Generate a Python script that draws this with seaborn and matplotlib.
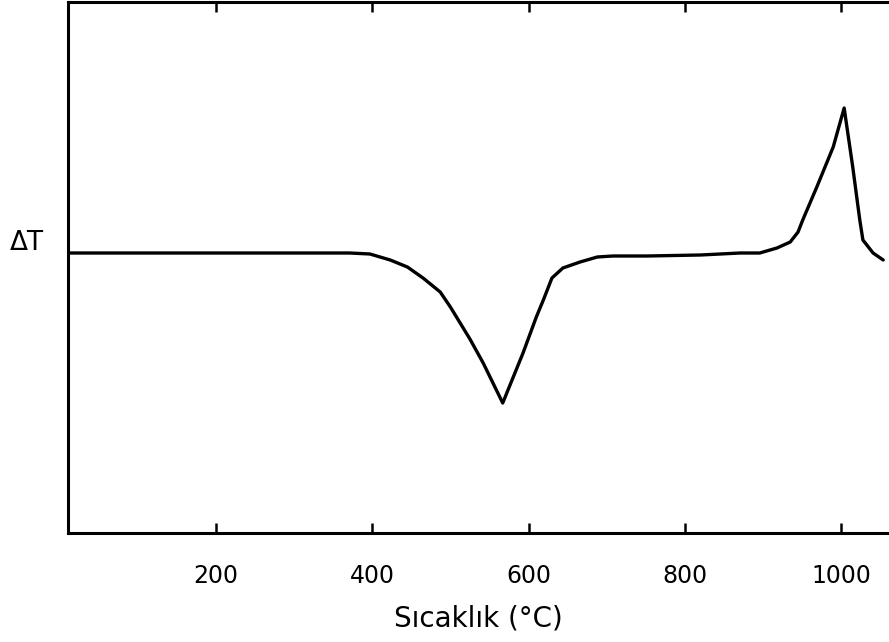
import matplotlib
matplotlib.use("Agg")
import matplotlib.pyplot as plt
import seaborn as sns
import pandas as pd

# Data (temperature in °C, ΔT in arbitrary units)
temperature = [11, 100, 200, 300, 371, 397, 423, 445, 465, 487, 500, 525,
               542, 567, 593, 610, 619, 630, 644, 666, 688, 708, 752, 820,
               871, 896, 918, 935, 945, 951, 969, 990, 1004, 1015, 1024,
               1028, 1041, 1054]
delta_t = [0.0, 0.0, 0.0, 0.0, 0.0, -0.1, -0.7, -1.4, -2.5, -3.9, -5.4, -8.6,
           -11.0, -15.0, -10.0, -6.4, -4.7, -2.5, -1.5, -0.9, -0.4, -0.3, -0.3,
           -0.2, 0.0, 0.0, 0.5, 1.1, 2.1, 3.3, 6.6, 10.6, 14.5, 8.6, 3.3,
           1.3, 0.0, -0.7]
x_ticks = [200, 400, 600, 800, 1000]
x_tick_labels = ["200", "400", "600", "800", "1000"]
x_label = "Sıcaklık (°C)"
y_label = "ΔT"

df = pd.DataFrame({"T": temperature, "dT": delta_t})

sns.set_style("white")
plt.rcParams["font.family"] = ["DejaVu Sans"]

fig = plt.figure(figsize=(8.89, 6.42), dpi=100)
ax = fig.add_axes([68 / 889, 1 - 533 / 642, (889 - 68) / 889, 531 / 642])

sns.lineplot(data=df, x="T", y="dT", sort=False, estimator=None,
             color="black", linewidth=2.4, ax=ax)
ax.lines[0].set_solid_joinstyle("round")

ax.set_xlim(10.6, 1061.4)
ax.set_ylim(-28.0, 25.1)

ax.set_xticks(x_ticks)
ax.set_xticklabels(x_tick_labels, fontsize=17, color="black")
ax.set_yticks([])
ax.tick_params(axis="x", direction="in", top=True, bottom=True,
               length=7, width=1.8, color="black", pad=22)

for side in ["left", "top", "bottom"]:
    ax.spines[side].set_visible(True)
    ax.spines[side].set_linewidth(2.2)
    ax.spines[side].set_color("black")
ax.spines["right"].set_visible(False)

ax.set_xlabel(x_label, fontsize=20, labelpad=12, color="black")
ax.set_ylabel("")
fig.text(27 / 889, 1 - 243 / 642, y_label, fontsize=19, color="black",
         ha="center", va="center")

fig.savefig("out.png", dpi=100)
